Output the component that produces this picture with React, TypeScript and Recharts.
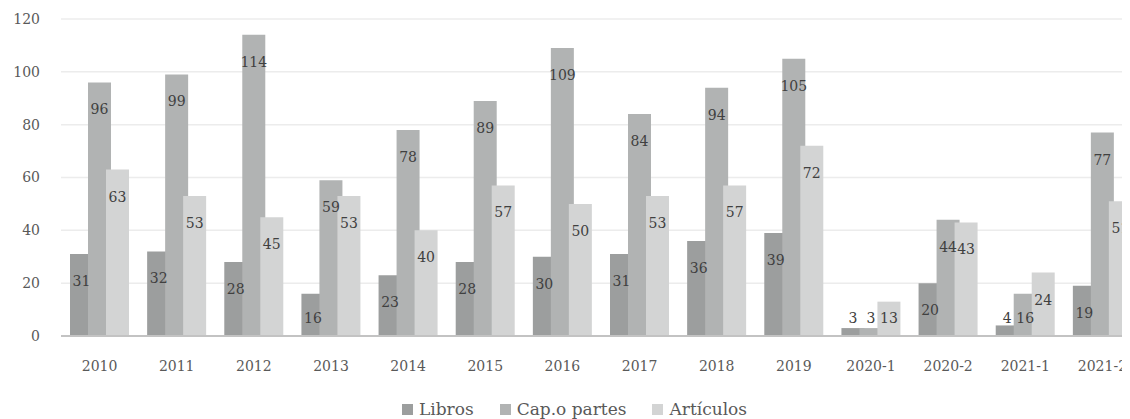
import React from "react";
import { BarChart, Bar, XAxis, YAxis, CartesianGrid, Legend, LabelList } from "recharts";

const categories = ["2010", "2011", "2012", "2013", "2014", "2015", "2016", "2017", "2018", "2019", "2020-1", "2020-2", "2021-1", "2021-2"];
const libros = [31, 32, 28, 16, 23, 28, 30, 31, 36, 39, 3, 20, 4, 19];
const capitulos = [96, 99, 114, 59, 78, 89, 109, 84, 94, 105, 3, 44, 16, 77];
const articulos = [63, 53, 45, 53, 40, 57, 50, 53, 57, 72, 13, 43, 24, 51];
const yTicks = [0, 20, 40, 60, 80, 100, 120];

const seriesNames = ["Libros", "Cap.o partes", "Artículos"];
const seriesColors = ["#9c9e9e", "#b1b3b3", "#d3d4d4"];

const data = categories.map((c, i) => ({
  cat: c,
  libros: libros[i],
  cap: capitulos[i],
  art: articulos[i],
}));

const FONT = "'DejaVu Serif', 'Liberation Serif', serif";

const renderLabel = (props: any) => {
  const { x, y, width, height, value } = props;
  const top = Number(y);
  const base = Number(y) + Number(height);
  const cy = Math.min(top + 27, base - 18);
  return (
    <text
      x={Number(x) + Number(width) / 2}
      y={cy}
      textAnchor="middle"
      dominantBaseline="central"
      fontFamily={FONT}
      fontSize={14}
      fill="#404040"
    >
      {value}
    </text>
  );
};

const renderLegend = () => (
  <div
    style={{
      display: "flex",
      justifyContent: "center",
      alignItems: "center",
      fontFamily: FONT,
      fontSize: 17,
      color: "#595959",
      gap: 26,
    }}
  >
    {seriesNames.map((n, i) => (
      <div key={n} style={{ display: "flex", alignItems: "center" }}>
        <span
          style={{
            display: "inline-block",
            width: 11,
            height: 11,
            background: seriesColors[i],
            marginRight: 6,
          }}
        />
        <span>{n}</span>
      </div>
    ))}
  </div>
);

export default function App() {
  return (
    <div style={{ width: 1122, height: 411, overflow: "hidden", background: "#fff" }}>
      <BarChart
        width={1150}
        height={411}
        data={data}
        margin={{ top: 11, right: 17, left: 0, bottom: 0 }}
        barSize={23}
        barGap={-5}
      >
        <CartesianGrid vertical={false} stroke="#ececec" strokeWidth={1.5} />
        <XAxis
          dataKey="cat"
          tickLine={false}
          axisLine={{ stroke: "#c3c3c3", strokeWidth: 2 }}
          tickSize={0}
          tickMargin={25}
          height={63}
          tick={{ fontFamily: FONT, fontSize: 14, fill: "#595959" }}
          interval={0}
        />
        <YAxis
          domain={[0, 120]}
          ticks={yTicks}
          tickLine={false}
          axisLine={false}
          tickSize={0}
          tickMargin={21}
          width={53}
          tick={{ fontFamily: FONT, fontSize: 14, fill: "#595959" }}
        />
        <Legend content={renderLegend} />
        <Bar dataKey="libros" name={seriesNames[0]} fill={seriesColors[0]} isAnimationActive={false}>
          <LabelList dataKey="libros" content={renderLabel} />
        </Bar>
        <Bar dataKey="cap" name={seriesNames[1]} fill={seriesColors[1]} isAnimationActive={false}>
          <LabelList dataKey="cap" content={renderLabel} />
        </Bar>
        <Bar dataKey="art" name={seriesNames[2]} fill={seriesColors[2]} isAnimationActive={false}>
          <LabelList dataKey="art" content={renderLabel} />
        </Bar>
      </BarChart>
    </div>
  );
}
